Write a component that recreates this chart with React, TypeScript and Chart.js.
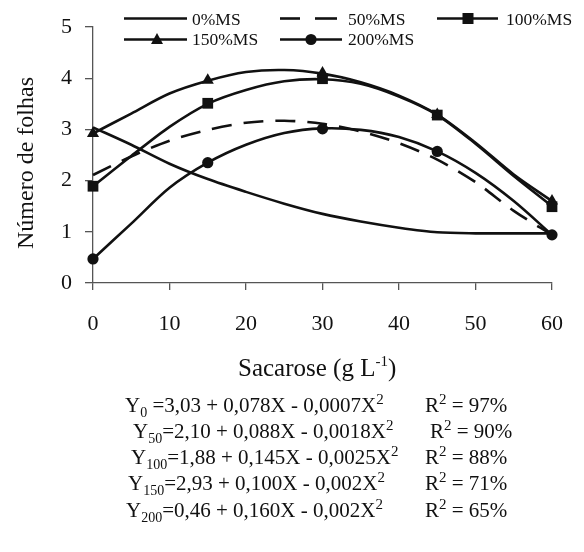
import React, { useEffect, useRef } from "react";
import { Chart, registerables } from "chart.js";
Chart.register(...registerables);

// Fitted curves, x in g/L of sucrose
const xCurve = [0, 5, 10, 15, 20, 25, 30, 35, 40, 45, 50, 55, 60];
const curve0 = [3.04, 2.7, 2.33, 2.03, 1.78, 1.55, 1.35, 1.2, 1.08, 0.99, 0.97, 0.97, 0.97];
const curve50 = [2.11, 2.47, 2.78, 2.99, 3.13, 3.17, 3.11, 2.96, 2.73, 2.41, 1.97, 1.41, 0.94];
const curve100 = [1.89, 2.48, 3.05, 3.5, 3.77, 3.94, 3.98, 3.89, 3.64, 3.28, 2.72, 2.09, 1.5];
const curve150 = [2.92, 3.31, 3.7, 3.95, 4.12, 4.16, 4.09, 3.92, 3.66, 3.29, 2.74, 2.12, 1.6];
const curve200 = [0.47, 1.16, 1.86, 2.35, 2.7, 2.93, 3.02, 2.99, 2.85, 2.57, 2.15, 1.6, 0.94];

// Observed means (markers)
const xObs = [0, 15, 30, 45, 60];
const obs100 = [1.89, 3.51, 3.99, 3.28, 1.49];
const obs150 = [2.92, 3.96, 4.1, 3.29, 1.6];
const obs200 = [0.47, 2.35, 3.01, 2.57, 0.94];

const xTicks = [0, 10, 20, 30, 40, 50, 60];
const yTicks = [0, 1, 2, 3, 4, 5];

const FONT = "'Liberation Serif', 'Times New Roman', serif";
const INK = "#111";
const AXIS = "#555";

const toPts = (xs: number[], ys: number[]) => xs.map((x, i) => ({ x, y: ys[i] }));

function curveDs(label: string, ys: number[], dash: number[] = []) {
  return {
    label,
    data: toPts(xCurve, ys),
    borderColor: INK,
    borderWidth: 2.6,
    borderDash: dash,
    pointRadius: 0,
    tension: 0.3,
    fill: false,
    clip: false as any,
  };
}

function markerDs(label: string, ys: number[], style: string, r: number) {
  return {
    label,
    data: toPts(xObs, ys),
    showLine: false,
    pointStyle: style,
    pointRadius: r,
    pointBackgroundColor: INK,
    pointBorderColor: INK,
    pointBorderWidth: 0,
    clip: false as any,
  };
}

function ChartCanvas() {
  const ref = useRef<HTMLCanvasElement | null>(null);
  useEffect(() => {
    if (!ref.current) return;
    const chart = new Chart(ref.current, {
      type: "line",
      data: {
        datasets: [
          curveDs("0%MS", curve0),
          curveDs("50%MS", curve50, [20, 12]),
          curveDs("100%MS", curve100),
          curveDs("150%MS", curve150),
          curveDs("200%MS", curve200),
          markerDs("100%MS obs", obs100, "rect", 7.6),
          markerDs("150%MS obs", obs150, "triangle", 7),
          markerDs("200%MS obs", obs200, "circle", 5.6),
        ] as any,
      },
      options: {
        animation: false,
        responsive: true,
        maintainAspectRatio: false,
        layout: { padding: { top: 27, right: 20, left: 0, bottom: 0 } },
        plugins: { legend: { display: false }, tooltip: { enabled: false } },
        scales: {
          x: {
            type: "linear",
            min: 0,
            max: 60,
            afterBuildTicks: (s: any) => {
              s.ticks = xTicks.map((v) => ({ value: v }));
            },
            afterFit: (s: any) => {
              s.height = 62;
            },
            ticks: { color: INK, font: { family: FONT, size: 22 }, padding: 21, maxRotation: 0 },
            grid: { drawOnChartArea: false, drawTicks: true, tickLength: 7, color: AXIS, lineWidth: 1.3 },
            border: { display: true, color: AXIS, width: 1.3 },
          },
          y: {
            type: "linear",
            min: 0,
            max: 5,
            afterBuildTicks: (s: any) => {
              s.ticks = yTicks.map((v) => ({ value: v }));
            },
            afterFit: (s: any) => {
              s.width = 93;
            },
            ticks: { color: INK, font: { family: FONT, size: 22 }, padding: 13 },
            grid: { drawOnChartArea: false, drawTicks: true, tickLength: 8, color: AXIS, lineWidth: 1.3 },
            border: { display: true, color: AXIS, width: 1.3 },
          },
        },
      } as any,
    });
    return () => chart.destroy();
  }, []);
  return <canvas ref={ref} />;
}

const eqRows = [
  { x: 125, y: 412, sub: "0", body: " =3,03 + 0,078X - 0,0007X", rx: 425, r: " = 97%" },
  { x: 133, y: 438, sub: "50", body: "=2,10 + 0,088X - 0,0018X", rx: 430, r: " = 90%" },
  { x: 131, y: 464, sub: "100", body: "=1,88 + 0,145X - 0,0025X", rx: 425, r: " = 88%" },
  { x: 128, y: 490, sub: "150", body: "=2,93 + 0,100X - 0,002X", rx: 425, r: " = 71%" },
  { x: 126, y: 517, sub: "200", body: "=0,46 + 0,160X - 0,002X", rx: 425, r: " = 65%" },
];

function Overlay() {
  const t: React.CSSProperties = { whiteSpace: "pre" };
  return (
    <svg
      width={584}
      height={552}
      style={{ position: "absolute", left: 0, top: 0, pointerEvents: "none" }}
      fontFamily={FONT}
      fill={INK}
    >
      {/* legend */}
      <g stroke={INK} strokeWidth={2.6}>
        <line x1={124} y1={18.5} x2={187} y2={18.5} />
        <line x1={280} y1={18.5} x2={300} y2={18.5} />
        <line x1={315} y1={18.5} x2={337} y2={18.5} />
        <line x1={437} y1={18.5} x2={498} y2={18.5} />
        <line x1={124} y1={39.5} x2={187} y2={39.5} />
        <line x1={280} y1={39.5} x2={342} y2={39.5} />
      </g>
      <rect x={462.5} y={13} width={11} height={11} fill={INK} />
      <polygon points="157,33 163,44 151,44" fill={INK} />
      <circle cx={311} cy={39.5} r={5.6} fill={INK} />
      <g fontSize={17.5}>
        <text x={192} y={25}>0%MS</text>
        <text x={348} y={25}>50%MS</text>
        <text x={506} y={25}>100%MS</text>
        <text x={192} y={45}>150%MS</text>
        <text x={348} y={45}>200%MS</text>
      </g>

      {/* y axis title */}
      <text fontSize={24} textAnchor="middle" transform="translate(33,163) rotate(-90)">
        Número de folhas
      </text>

      {/* x axis title */}
      <text x={238} y={376} fontSize={25} style={t}>
        <tspan>Sacarose (g L</tspan>
        <tspan fontSize={15} dy={-10}>-1</tspan>
        <tspan dy={10}>)</tspan>
      </text>

      {/* regression equations */}
      <g fontSize={21}>
        {eqRows.map((row, i) => (
          <g key={i}>
            <text x={row.x} y={row.y} style={t}>
              <tspan>Y</tspan>
              <tspan fontSize={14} dy={5}>{row.sub}</tspan>
              <tspan dy={-5}>{row.body}</tspan>
              <tspan fontSize={15} dy={-8}>2</tspan>
            </text>
            <text x={row.rx} y={row.y} style={t}>
              <tspan>R</tspan>
              <tspan fontSize={15} dy={-8}>2</tspan>
              <tspan dy={8}>{row.r}</tspan>
            </text>
          </g>
        ))}
      </g>
    </svg>
  );
}

export default function App() {
  return (
    <div
      style={{
        position: "fixed",
        left: 0,
        top: 0,
        width: 584,
        height: 552,
        background: "#fff",
        overflow: "hidden",
      }}
    >
      <div style={{ position: "absolute", left: 0, top: 0, width: 584, height: 345 }}>
        <ChartCanvas />
      </div>
      <Overlay />
    </div>
  );
}
